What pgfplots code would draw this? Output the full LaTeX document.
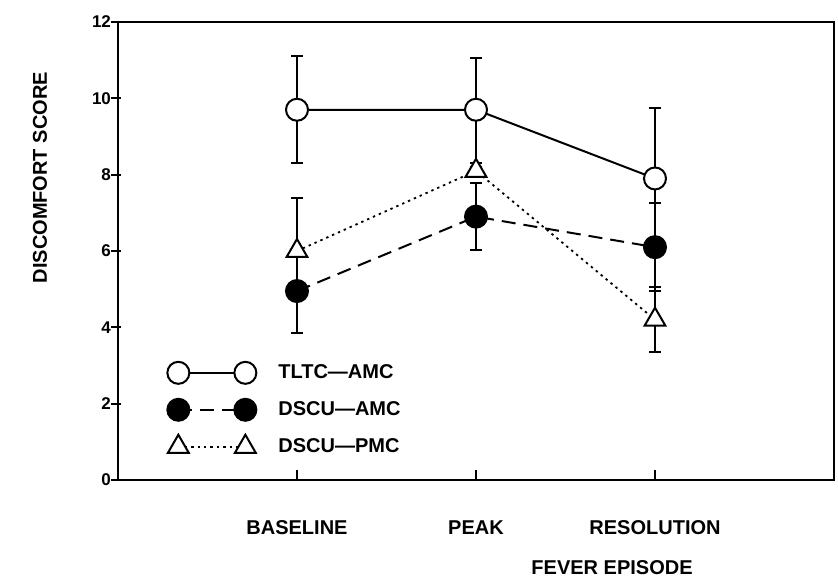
\documentclass[border=0pt]{standalone}
\usepackage{fontspec}
\setmainfont{Liberation Sans}
\usepackage{pgfplots}
\pgfplotsset{compat=1.18}

% mean, upper and lower error bar lengths
\pgfplotstableread{
x  y    ep   em
1  9.70 1.40 1.40
2  9.70 1.35 1.40
3  7.90 1.85 1.85
}\tltcamc
\pgfplotstableread{
x  y    ep   em
1  4.95 1.05 1.10
2  6.90 0.88 0.88
3  6.10 1.15 1.15
}\dscuamc
\pgfplotstableread{
x  y    ep   em
1  6.00 1.38 1.00
2  8.10 0.10 0.10
3  4.20 0.85 0.85
}\dscupmc

\begin{document}
\begin{tikzpicture}
\begin{axis}[
  scale only axis,
  width=358pt, height=229pt,
  xmin=0, xmax=4, ymin=0, ymax=12,
  xtick={1,2,3},
  xticklabels={BASELINE,PEAK,RESOLUTION},
  ytick={0,2,...,12},
  tickpos=left,
  tick align=inside,
  major tick length=5pt,
  axis line style={line width=1pt},
  every tick/.style={black, line width=1pt},
  ytick style={xshift=-3.5pt},
  /pgf/number format/assume math mode=true,
  yticklabel style={font=\fontsize{8.5}{10}\selectfont\bfseries},
  xticklabel style={font=\fontsize{10}{12}\selectfont\bfseries, yshift=-16pt,
    text height=7.5pt, text depth=0pt},
  label style={font=\fontsize{10}{12}\selectfont\bfseries},
  xlabel={FEVER EPISODE},
  ylabel={DISCOMFORT SCORE},
  xlabel style={at={(axis description cs:0.69,-0.192)}, anchor=center},
  ylabel style={at={(axis description cs:-0.109,0.66)}, anchor=center},
  legend image code/.code={%
    \draw[#1] plot coordinates {(0pt,0pt) (33.5pt,0pt)};
    \path[draw=none, fill=none] (0pt,0pt) -- (44pt,0pt);},
  legend style={draw=none, fill=none, at={(axis cs:0.24,3.25)}, anchor=north west,
    font=\fontsize{10}{12}\selectfont\bfseries, row sep=6pt,
    nodes={inner xsep=6pt}},
  legend cell align=left,
  every axis plot/.append style={black, line width=1pt},
  error bars/y dir=both,
  error bars/y explicit,
  error bars/error bar style={solid, line width=1pt},
  error bars/error mark options={rotate=90, mark size=3pt, line width=1pt, solid},
  clip=false,
]
\addplot[solid, mark=*, mark size=5.5pt, mark options={fill=white, solid}]
  table[x=x, y=y, y error plus=ep, y error minus=em] {\tltcamc};
\addlegendentry{TLTC—AMC}
\addplot[dash pattern=on 7pt off 4pt, mark=*, mark size=5.5pt, mark options={fill=black, solid}]
  table[x=x, y=y, y error plus=ep, y error minus=em] {\dscuamc};
\addlegendentry{DSCU—AMC}
\addplot[dash pattern=on 1.2pt off 2pt, line width=0.9pt, mark=triangle*, mark size=6pt, mark options={fill=white, solid, line width=1pt}]
  table[x=x, y=y, y error plus=ep, y error minus=em] {\dscupmc};
\addlegendentry{DSCU—PMC}
\coordinate (bl) at (rel axis cs:-0.1648,-0.2358);
\coordinate (tr) at (rel axis cs:1.0056,1.048);
\end{axis}
\pgfresetboundingbox
\path[use as bounding box] (bl) rectangle (tr);
\end{tikzpicture}
\end{document}
